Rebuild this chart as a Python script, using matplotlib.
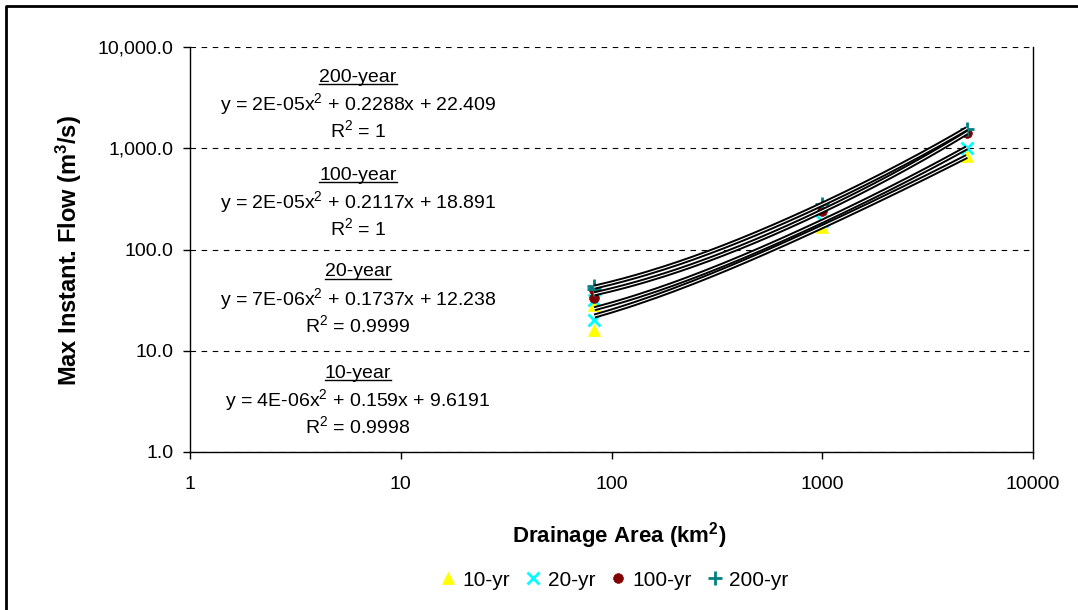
import matplotlib.pyplot as plt
import numpy as np
from matplotlib.lines import Line2D

plt.rcParams['font.family'] = ['Liberation Sans', 'DejaVu Sans']
plt.rcParams['mathtext.fontset'] = 'custom'
plt.rcParams['mathtext.rm'] = 'Liberation Sans'
plt.rcParams['mathtext.it'] = 'Liberation Sans:italic'
plt.rcParams['mathtext.bf'] = 'Liberation Sans:bold'

# Data (drainage area km2 vs. max instantaneous flow m3/s)
AREA = [83, 83, 1000, 4850]
Q_10 = [28, 16, 168, 830]
Q_20 = [32, 20, 190, 1010]
Q_100 = [40, 33, 240, 1420]
Q_200 = [44, 41, 280, 1560]

SERIES = ['10-yr', '20-yr', '100-yr', '200-yr']
VALUES = [Q_10, Q_20, Q_100, Q_200]
MARKERS = ['^', 'x', 'o', '+']
COLORS = ['#FFFF00', '#00FFFF', '#800000', '#008080']
SIZES = [9, 8, 7, 10]

# Trendline labels
NAMES = ['200-year', '100-year', '20-year', '10-year']
EQUATIONS = ['y = 2E-05x$^2$ + 0.2288x + 22.409',
             'y = 2E-05x$^2$ + 0.2117x + 18.891',
             'y = 7E-06x$^2$ + 0.1737x + 12.238',
             'y = 4E-06x$^2$ + 0.159x + 9.6191']
R2 = ['R$^2$ = 1', 'R$^2$ = 1', 'R$^2$ = 0.9999', 'R$^2$ = 0.9998']

W, H = 1078, 610
fig = plt.figure(figsize=(W / 100, H / 100), dpi=100)
ax = fig.add_axes([190 / W, 1 - 452 / H, (1033 - 190) / W, (452 - 47) / H])

handles = []
for name, q, m, c, s in zip(SERIES, VALUES, MARKERS, COLORS, SIZES):
    h, = ax.plot(AREA, q, linestyle='none', marker=m, color=c, markersize=s,
                 markeredgewidth=2 if m in 'x+' else 0.5, label=name, zorder=3)
    handles.append(h)

# quadratic trendlines (double line look)
xs = np.linspace(min(AREA), max(AREA), 300)
for q in VALUES:
    coef = np.polyfit(AREA, q, 2)
    ys = np.polyval(coef, xs)
    ax.plot(xs, ys, color='black', linewidth=3.6, solid_capstyle='butt', zorder=4)
    ax.plot(xs, ys, color='white', linewidth=0.8, zorder=5)

ax.set_xscale('log')
ax.set_yscale('log')
ax.set_xlim(1, 10000)
ax.set_ylim(1, 10000)
ax.set_xticks([1, 10, 100, 1000, 10000])
ax.set_xticklabels(['1', '10', '100', '1000', '10000'])
yt = [1, 10, 100, 1000, 10000]
ax.set_yticks(yt)
ax.set_yticklabels([f'{v:,.1f}' for v in yt])
ax.minorticks_off()
ax.tick_params(axis='both', labelsize=14, direction='out', length=5, width=1)
ax.tick_params(axis='x', pad=12)
ax.tick_params(axis='y', pad=7)
ax.grid(True, axis='y', linestyle=(0, (5, 5)), color='black', linewidth=0.8)
ax.spines['top'].set_visible(False)
for sp in ['left', 'bottom', 'right']:
    ax.spines[sp].set_linewidth(1)

ax.set_xlabel('Drainage Area (km$^\\mathbf{2}$)', fontsize=16, fontweight='bold')
ax.xaxis.set_label_coords(619 / W, 1 - 520 / H, transform=fig.transFigure)
ax.set_ylabel('Max Instant. Flow (m$^\\mathbf{3}$/s)', fontsize=17, fontweight='bold')
ax.yaxis.set_label_coords(84 / W, 1 - 251 / H, transform=fig.transFigure)

# trendline equation annotations
cx = 358 / W
name_y = [77, 175, 272, 373]
for name, eq, r2, ny in zip(NAMES, EQUATIONS, R2, name_y):
    t = fig.text(cx, 1 - ny / H, name, ha='center', va='center', fontsize=14)
    fig.text(cx, 1 - (ny + 27) / H, eq, ha='center', va='center', fontsize=14)
    fig.text(cx, 1 - (ny + 53) / H, r2, ha='center', va='center', fontsize=14)
    fig.canvas.draw()
    bb = t.get_window_extent().transformed(fig.transFigure.inverted())
    fig.add_artist(Line2D([bb.x0, bb.x1], [bb.y0 + 0.003, bb.y0 + 0.003],
                          color='black', linewidth=1, transform=fig.transFigure))

fig.legend(handles=handles, loc='center', bbox_to_anchor=(612 / W, 1 - 580 / H),
           ncol=4, frameon=False, fontsize=15, handletextpad=0.1,
           columnspacing=0.5, handlelength=1.2)

# chart border (left and top edges visible in the crop)
fig.add_artist(Line2D([6 / W, 6 / W, 1], [0, 1 - 6 / H, 1 - 6 / H], color='black',
                      linewidth=2, transform=fig.transFigure))

plt.savefig('out.png', dpi=100)
